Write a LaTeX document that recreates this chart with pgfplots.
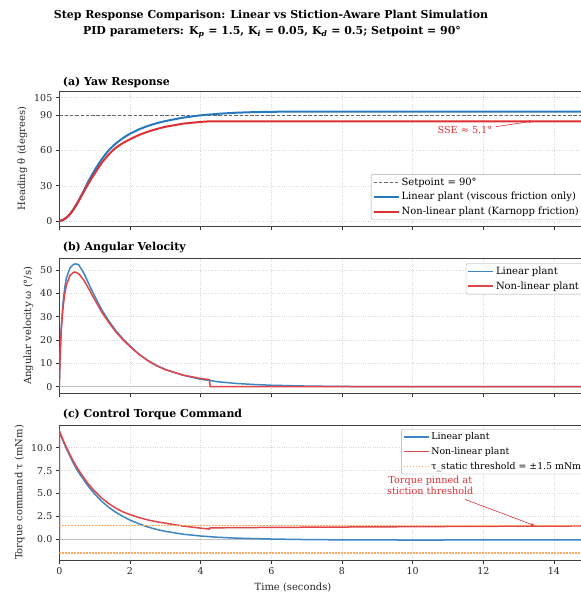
\documentclass[border=0pt]{standalone}
\usepackage{fontspec}
\setmainfont{DejaVu Serif}
\usepackage{pgfplots}
\pgfplotsset{compat=1.18}
\usetikzlibrary{arrows.meta}
\definecolor{linblue}{RGB}{40,120,190}
\definecolor{nlred}{RGB}{222,48,52}
\definecolor{thorange}{RGB}{255,170,100}

\pgfplotsset{
  panel/.style={
    scale only axis, width=530bp, height=135bp,
    xmin=0, xmax=15, xtick={0,2,...,14},
    axis line style={draw=black!75, line width=0.9bp},
    tick align=outside, tick pos=left,
    major tick length=3.5bp,
    tick style={black!80, line width=0.8bp},
    grid=major, grid style={dotted, black!15, line width=0.45bp},
    tick label style={font=\fontsize{9.5}{11}\selectfont, text=black!85},
    label style={font=\fontsize{10}{12}\selectfont, text=black!85},
    /pgf/number format/assume math mode=true,
    legend style={font=\fontsize{10}{12}\selectfont, draw=black!35,
      rounded corners=2bp, fill=white, inner sep=1.5bp, row sep=1.6bp},
    legend cell align=left,
    legend image code/.code={\draw[##1] (0bp,0bp) -- (20bp,0bp); \path (0bp,0bp) -- (25bp,0bp);},
  },
}

\begin{document}
\begin{tikzpicture}
\path[use as bounding box] (0bp,0bp) rectangle (581bp,-594bp);

% titles
\node[font=\bfseries\fontsize{11}{13}\selectfont, anchor=base] at (271bp,-18bp)
  {Step Response Comparison: Linear vs Stiction-Aware Plant Simulation};
\node[font=\bfseries\fontsize{11}{13}\selectfont, anchor=base] at (272bp,-34.5bp)
  {PID parameters: K\textsubscript{\textit{p}} = 1.5, K\textsubscript{\textit{i}} = 0.05, K\textsubscript{\textit{d}} = 0.5; Setpoint = 90°};

% (a) yaw response
\node[font=\bfseries\fontsize{11}{13}\selectfont, anchor=base west] at (59.3bp,-85bp) {(a) Yaw Response};
\begin{axis}[panel, at={(59.3bp,-91bp)}, anchor=north west,
  ymin=-4.27, ymax=110.7, ytick={0,30,60,90,105}, xticklabels={},
  ylabel={Heading θ (degrees)},
  legend style={at={(0.588,0.384)}, anchor=north west}]
\addplot[black!60, line width=1bp, dash pattern=on 3.5bp off 1.8bp] coordinates {(0,90)(15,90)};
\addlegendentry{Setpoint = 90°}
\addplot[linblue, line width=2bp] coordinates {
(0,0)(0.1,0.8)(0.2,2.8)(0.3,5.8)(0.4,10)(0.5,15)(0.6,20.5)(0.7,26.2)(0.8,32.5)(0.9,38)
(1.0,43.2)(1.1,48)(1.2,52.5)(1.3,56.6)(1.4,60.2)(1.5,63.3)(1.6,66)(1.8,70.6)(2.0,74.3)
(2.25,78)(2.5,80.9)(2.75,83.2)(3.0,85.1)(3.5,88.0)(4.0,90.0)(4.5,91.3)(5.0,92.2)(5.5,92.7)
(6,93.0)(7,93.2)(8,93.2)(15,93.2)};
\addlegendentry{Linear plant (viscous friction only)}
\addplot[nlred, line width=2bp] coordinates {
(0,0)(0.1,0.8)(0.2,2.7)(0.3,5.6)(0.4,9.6)(0.5,14.4)(0.6,19.8)(0.7,25.3)(0.8,30.6)(0.9,35.6)
(1.0,40.3)(1.1,45)(1.2,49.5)(1.3,53.2)(1.4,56.6)(1.5,59.7)(1.6,62.4)(1.8,66.4)(2.0,69.6)
(2.25,73.2)(2.5,76.0)(2.75,78.3)(3.0,80.2)(3.5,82.9)(4.0,84.4)(4.27,84.9)(15,84.9)};
\addlegendentry{Non-linear plant (Karnopp friction)}
\node[nlred, font=\fontsize{9.7}{11}\selectfont] at (axis cs:11.48,77.5) {SSE ≈ 5.1°};
\draw[nlred, line width=0.6bp, -{Stealth[length=4bp,width=3bp]}] (axis cs:12.35,80.3) -- (axis cs:13.4,85);
\end{axis}

% (b) angular velocity
\node[font=\bfseries\fontsize{11}{13}\selectfont, anchor=base west] at (59.3bp,-250bp) {(b) Angular Velocity};
\begin{axis}[panel, at={(59.3bp,-258.3bp)}, anchor=north west,
  ymin=-2.83, ymax=55.0, ytick={0,10,...,50}, xticklabels={},
  ylabel={Angular velocity ω (°/s)},
  legend style={at={(0.767,0.963)}, anchor=north west}]
\addplot[black!25, line width=0.8bp, forget plot] coordinates {(0,0)(15,0)};
\addplot[linblue!90, line width=1.5bp] coordinates {
(0,0)(0.02,12)(0.05,24)(0.1,35)(0.15,42)(0.2,46.5)(0.3,50.8)(0.4,52.4)(0.47,52.6)(0.55,52.2)
(0.7,48.5)(0.85,43.5)(1.0,38.8)(1.2,33.0)(1.4,28.2)(1.6,24.0)(1.8,20.5)(2.0,17.5)(2.25,14.0)
(2.5,11.3)(2.75,9.1)(3.0,7.4)(3.5,4.9)(4.0,3.2)(4.5,2.1)(5.0,1.4)(5.5,0.95)(6.0,0.62)
(7.0,0.27)(8.0,0.1)(9.0,0.03)(10,0.0)(12,-0.02)(15,-0.01)};
\addlegendentry{Linear plant}
\addplot[nlred!90, line width=1.5bp] coordinates {
(0,0)(0.02,11.5)(0.05,23)(0.1,33)(0.15,39.5)(0.2,43.5)(0.3,47.6)(0.4,49)(0.45,49.1)(0.55,48.4)
(0.7,45.5)(0.85,41.5)(1.0,37.3)(1.2,32.0)(1.4,27.5)(1.6,23.5)(1.8,20.1)(2.0,17.2)(2.25,13.9)
(2.5,11.2)(2.75,9.0)(3.0,7.3)(3.5,5.0)(4.0,3.5)(4.25,3.0)(4.27,0)(15,0)};
\addlegendentry{Non-linear plant}
\end{axis}

% (c) control torque
\node[font=\bfseries\fontsize{11}{13}\selectfont, anchor=base west] at (59.3bp,-417bp) {(c) Control Torque Command};
\begin{axis}[panel, at={(59.3bp,-425bp)}, anchor=north west,
  ymin=-2.26, ymax=12.48, ytick={0,2.5,5,7.5,10},
  yticklabel style={/pgf/number format/.cd, fixed, fixed zerofill, precision=1},
  ylabel={Torque command τ (mNm)},
  legend style={at={(0.645,0.970)}, anchor=north west, font=\fontsize{9.4}{11}\selectfont, row sep=2bp}]
\addplot[black!25, line width=0.8bp, forget plot] coordinates {(0,0)(15,0)};
\addplot[linblue!90, line width=1.5bp] coordinates {
(0,0)(0,11.8)(0.1,10.8)(0.2,9.9)(0.3,9.1)(0.4,8.3)(0.5,7.6)(0.6,7.0)(0.8,5.9)(1.0,4.95)
(1.2,4.15)(1.4,3.5)(1.6,2.95)(1.8,2.5)(2.0,2.1)(2.25,1.7)(2.5,1.35)(2.75,1.08)(3.0,0.87)
(3.5,0.56)(4.0,0.36)(4.5,0.22)(5,0.13)(6,0.03)(7,-0.03)(8,-0.06)(10,-0.08)(12,-0.07)(15,-0.06)};
\addlegendentry{Linear plant}
\addplot[nlred!90, line width=1.5bp] coordinates {
(0,0)(0,11.85)(0.1,10.9)(0.2,10.05)(0.3,9.25)(0.4,8.5)(0.5,7.85)(0.6,7.25)(0.8,6.15)(1.0,5.25)
(1.2,4.5)(1.4,3.9)(1.6,3.4)(1.8,3.0)(2.0,2.7)(2.25,2.38)(2.5,2.12)(2.75,1.92)(3.0,1.76)
(3.5,1.45)(4.0,1.22)(4.25,1.12)(4.27,1.25)(6,1.3)(8,1.34)(10,1.38)(12,1.42)(15,1.46)};
\addlegendentry{Non-linear plant}
\addplot[thorange, line width=1.2bp, dash pattern=on 1.4bp off 1.6bp] coordinates {(0,1.5)(15,1.5)};
\addlegendentry{τ\_static threshold = ±1.5 mNm}
\addplot[thorange, line width=1.2bp, dash pattern=on 1.4bp off 1.6bp, forget plot] coordinates {(0,-1.5)(15,-1.5)};
\node[nlred, font=\fontsize{9.7}{11}\selectfont, align=center] at (axis cs:10.5,5.9) {Torque pinned at\\stiction threshold};
\draw[nlred, line width=0.6bp, -{Stealth[length=4bp,width=3bp]}] (axis cs:11.48,4.36) -- (axis cs:13.45,1.5);
\end{axis}

\node[font=\fontsize{10}{12}\selectfont, text=black!85] at (293bp,-587bp) {Time (seconds)};
\end{tikzpicture}
\end{document}
